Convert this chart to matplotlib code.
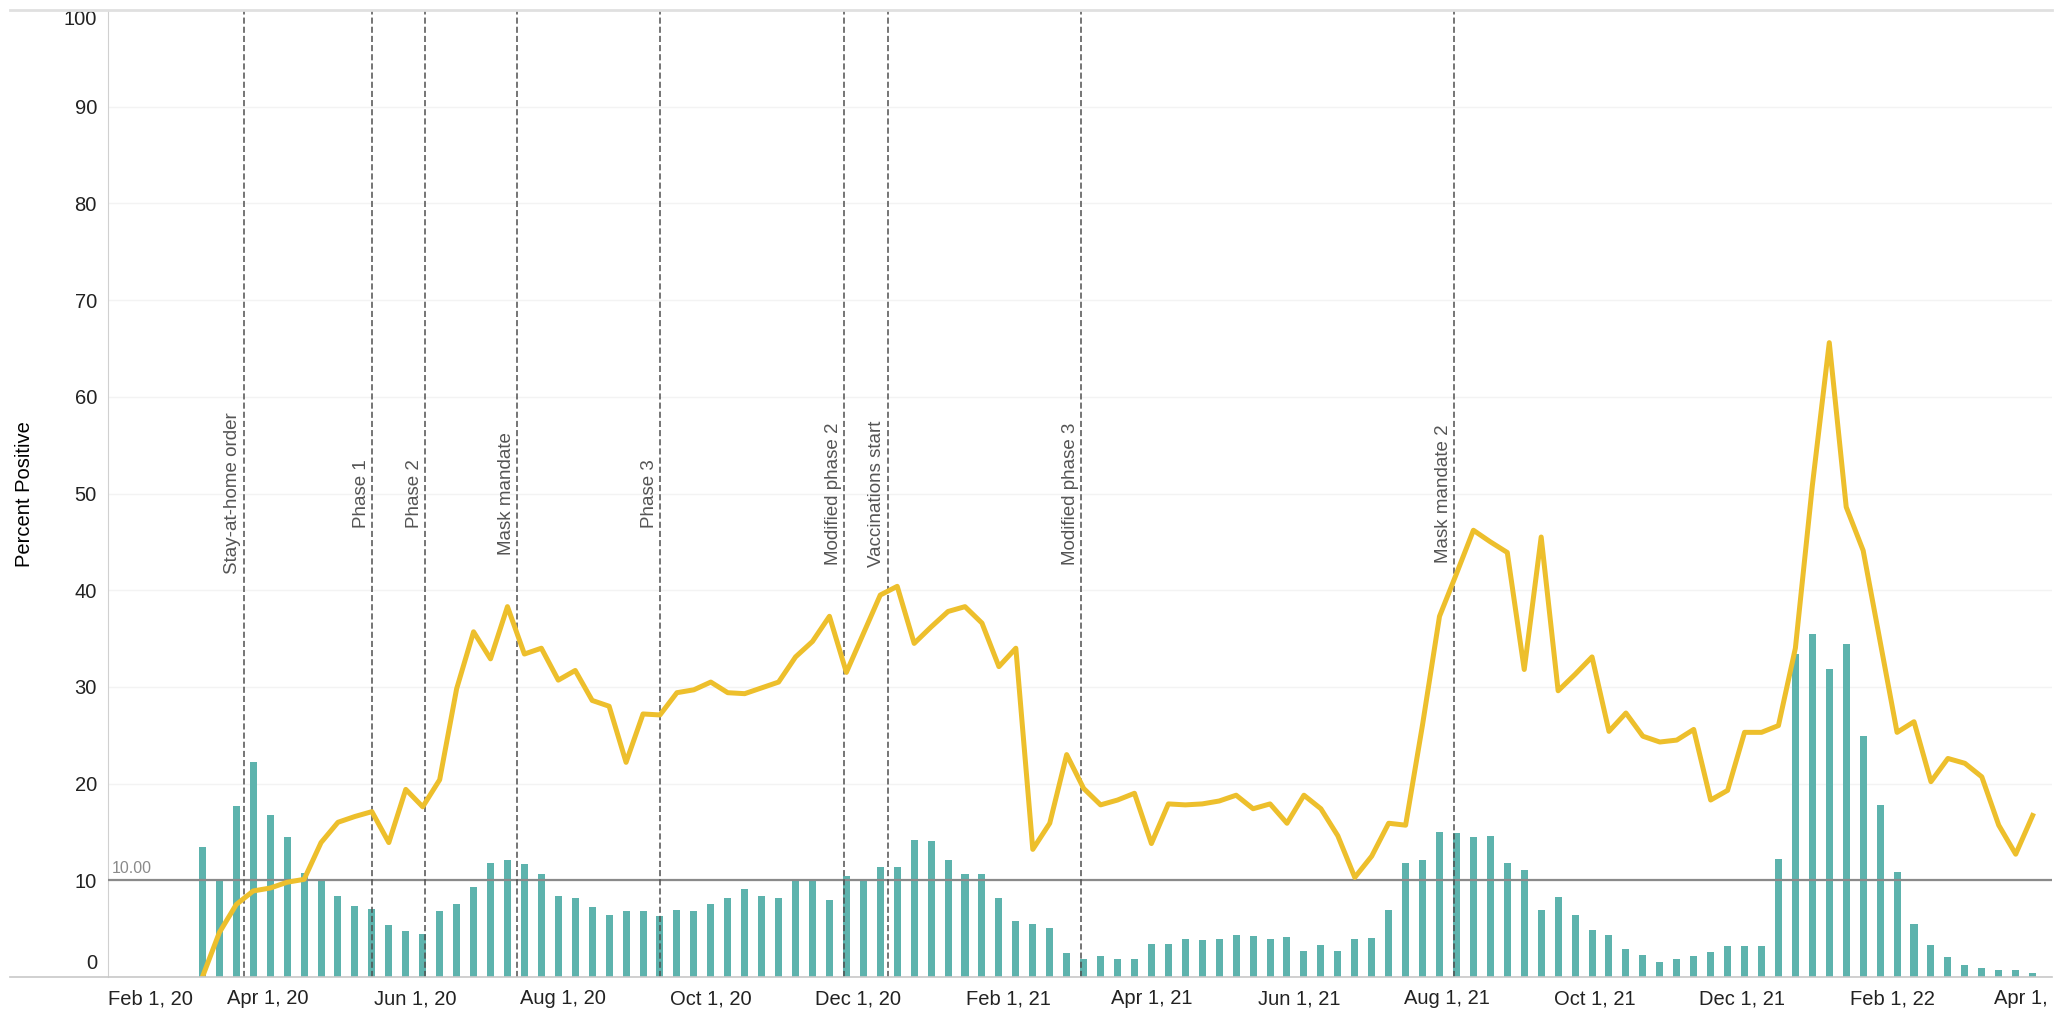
import pandas as pd
import matplotlib
matplotlib.use('Agg')
from matplotlib import pyplot as plt
from matplotlib import dates as mdates
from matplotlib.lines import Line2D
from matplotlib.transforms import ScaledTranslation, Bbox, TransformedBbox

plt.rcParams['font.family'] = ['Liberation Sans', 'DejaVu Sans']

# weekly values, first week starting Mar 5, 2020
first_week = '2020-03-05'

pct_bars = [13.4, 9.9, 17.7, 22.2, 16.8, 14.5, 10.8, 10.0, 8.4, 7.3,
            7.0, 5.4, 4.8, 4.4, 6.8, 7.5, 9.3, 11.8, 12.1, 11.7,
            10.7, 8.4, 8.2, 7.2, 6.4, 6.8, 6.8, 6.3, 6.9, 6.8,
            7.5, 8.2, 9.1, 8.4, 8.2, 10.0, 10.0, 8.0, 10.4, 10.0,
            11.4, 11.4, 14.2, 14.1, 12.1, 10.6, 10.6, 8.2, 5.8, 5.5,
            5.1, 2.5, 1.9, 2.2, 1.9, 1.9, 3.4, 3.4, 3.9, 3.8,
            3.9, 4.3, 4.2, 3.9, 4.1, 2.7, 3.3, 2.7, 3.9, 4.0,
            6.9, 11.8, 12.1, 15.0, 14.9, 14.5, 14.6, 11.8, 11.1, 6.9,
            8.3, 6.4, 4.9, 4.3, 2.9, 2.3, 1.6, 1.9, 2.2, 2.6,
            3.2, 3.2, 3.2, 12.2, 33.4, 35.5, 31.8, 34.4, 24.9, 17.8,
            10.9, 5.5, 3.3, 2.1, 1.2, 0.9, 0.7, 0.7, 0.45]

pct_line = [0.0, 4.6, 7.5, 8.9, 9.2, 9.8, 10.1, 13.9, 16.0, 16.6,
            17.1, 13.9, 19.4, 17.6, 20.4, 29.8, 35.7, 32.9, 38.3, 33.4,
            34.0, 30.7, 31.7, 28.6, 28.0, 22.2, 27.2, 27.1, 29.4, 29.7,
            30.5, 29.4, 29.3, 29.9, 30.5, 33.1, 34.7, 37.3, 31.5, 35.5,
            39.5, 40.4, 34.5, 36.2, 37.8, 38.3, 36.6, 32.1, 34.0, 13.2,
            15.9, 23.0, 19.5, 17.8, 18.3, 19.0, 13.8, 17.9, 17.8, 17.9,
            18.2, 18.8, 17.4, 17.9, 15.9, 18.8, 17.4, 14.6, 10.3, 12.5,
            15.9, 15.7, 26.1, 37.3, 41.7, 46.2, 45.0, 43.9, 31.8, 45.5,
            29.6, 31.3, 33.1, 25.4, 27.3, 24.9, 24.3, 24.5, 25.6, 18.3,
            19.3, 25.3, 25.3, 26.0, 34.0, 50.8, 65.6, 48.6, 44.1, 34.7,
            25.3, 26.4, 20.2, 22.6, 22.1, 20.7, 15.7, 12.7, 16.7]

event_dates = ['2020-03-22', '2020-05-14', '2020-06-05', '2020-07-13', '2020-09-10',
               '2020-11-25', '2020-12-13', '2021-03-03', '2021-08-04']
event_labels = ['Stay-at-home order', 'Phase 1', 'Phase 2', 'Mask mandate', 'Phase 3',
                'Modified phase 2', 'Vaccinations start', 'Modified phase 3', 'Mask mandate 2']

ref_value = 10
y_ticks = list(range(0, 101, 10))
x_ticks = pd.date_range('2020-02-01', '2022-04-01', freq='2MS')

teal = '#5db3ad'
gold = '#edbf2c'

weeks = pd.date_range(first_week, periods=len(pct_bars), freq='7D')

W, H = 2060, 1010
fig = plt.figure(figsize=(W / 100, H / 100), dpi=100)
ax = fig.add_axes([108 / W, 33 / H, (2052 - 108) / W, 967 / H])

ax.bar(weeks, pct_bars, width=2.9, color=teal, zorder=2)
ax.axhline(ref_value, color='#8a8a8a', lw=1.6, zorder=3)
ax.text(0.002, ref_value + 0.4, '%.2f' % ref_value, transform=ax.get_yaxis_transform(),
        color='#8a8a8a', fontsize=11.5, va='bottom', ha='left')

for d, lbl in zip(event_dates, event_labels):
    d = pd.Timestamp(d)
    ax.axvline(d, color='#4f4f4f', lw=1.1, ls=(0, (4, 2)), zorder=3)
    ax.annotate(lbl, xy=(d, 50), xytext=(-1.5, 0), textcoords='offset points',
                rotation=90, ha='right', va='center', fontsize=13.5, color='#555555')

ax.plot(weeks, pct_line, color=gold, lw=3.6, zorder=4, solid_joinstyle='round')

ax.set_xlim(pd.Timestamp('2020-01-26'), pd.Timestamp('2022-04-08'))
ax.set_ylim(0, 100)
ax.set_yticks(y_ticks)
ax.set_xticks(x_ticks)
ax.xaxis.set_major_formatter(mdates.DateFormatter('%b %-d, %y'))
ax.tick_params(axis='both', length=0, labelsize=14.5, colors='#222222')
ax.tick_params(axis='x', pad=9)
ax.tick_params(axis='y', pad=8)
ax.yaxis.grid(True, color='#f3f3f3', lw=1)
ax.set_axisbelow(True)

for s in ['top', 'right', 'bottom']:
    ax.spines[s].set_visible(False)
ax.spines['left'].set_color('#d0d0d0')

fig.canvas.draw()
xl = ax.get_xticklabels()
xl[0].set_horizontalalignment('left')
xl[0].set_transform(xl[0].get_transform() + ScaledTranslation(-0.15, 0, fig.dpi_scale_trans))
# last date label is cut at the pane edge, as in the original
xl[-1].set_clip_on(True)
xl[-1].set_clip_box(TransformedBbox(Bbox([[0, 0], [2052 / W, 1]]), fig.transFigure))
yl = ax.get_yticklabels()
yl[0].set_verticalalignment('bottom')
yl[0].set_transform(yl[0].get_transform() + ScaledTranslation(0, 0.04, fig.dpi_scale_trans))
yl[-1].set_verticalalignment('top')

fig.add_artist(Line2D([0.005, 2052 / W], [33 / H] * 2, color='#c8c8c8', lw=1.2))
fig.add_artist(Line2D([0.005, 2052 / W], [1 - 10 / H] * 2, color='#e0e0e0', lw=2))

fig.text(25 / W, 1 - 494 / H, 'Percent Positive', rotation=90,
         ha='center', va='center', fontsize=14.5)

fig.savefig('out.png', dpi=100)
